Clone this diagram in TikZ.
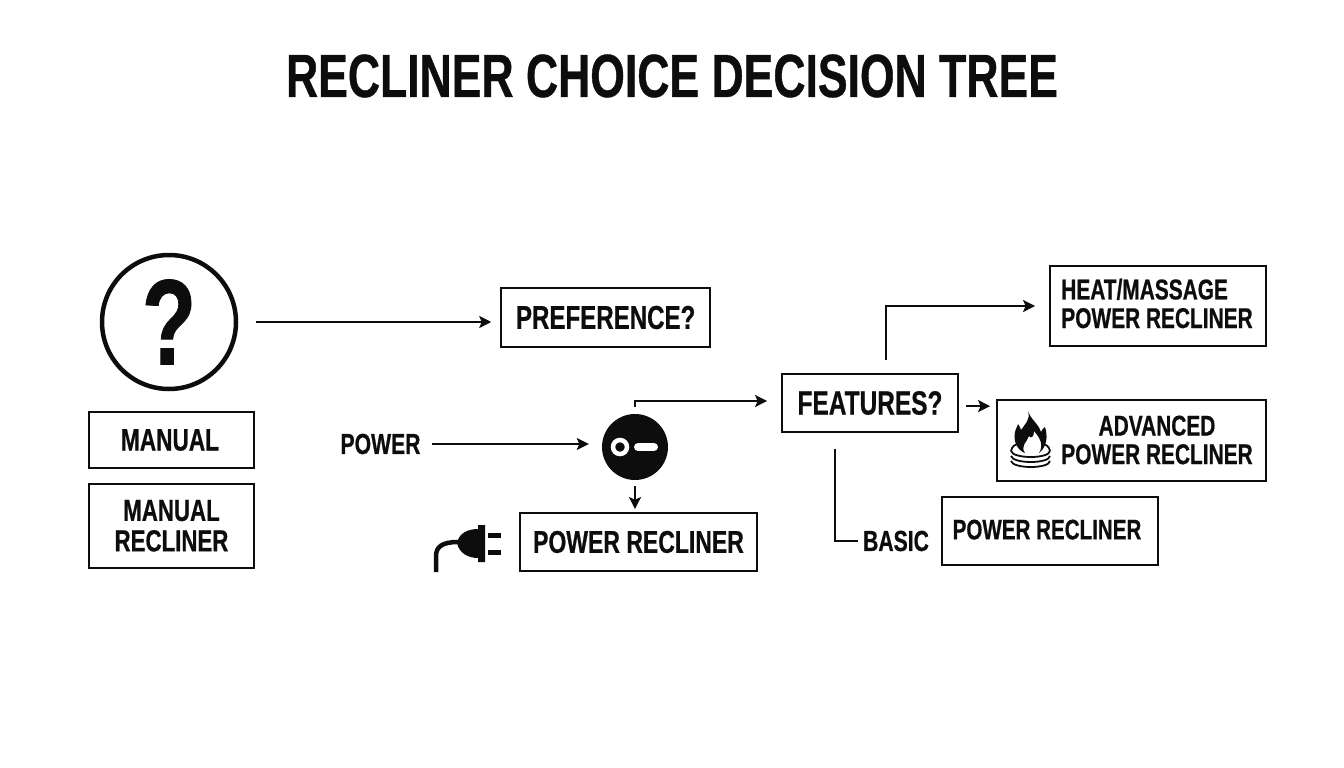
\documentclass[tikz,border=0pt]{standalone}
\usepackage{fontspec}
\usepackage{tikz}
\usetikzlibrary{positioning,arrows.meta}
\setmainfont[FakeStretch=0.73,BoldFeatures={FakeStretch=0.73,FakeBold=0.6}]{Liberation Sans}
\definecolor{inkblack}{HTML}{0D0D0D}

\newcommand{\fsize}[1]{\fontsize{#1}{#1}\selectfont\bfseries}

\tikzset{
    box/.style={draw=inkblack, line width=1.8pt, inner sep=0pt, align=center, text=inkblack, font=\fsize{31.5}},
    smallbox/.style={box, font=\fsize{28.6}},
    tag/.style={inner sep=0pt, text=inkblack, font=\fsize{29}},
    flow/.style={draw=inkblack, line width=2pt, -{Stealth[length=12pt,width=12pt,inset=2.5pt]}},
}

\begin{document}
\begin{tikzpicture}[x=1pt, y=-1pt]
    \useasboundingbox (0,0) rectangle (1344,768);

    \node[tag, font=\fsize{61}] (title) at (672,76) {RECLINER CHOICE DECISION TREE}; % title

    % left column
    \node[circle, draw=inkblack, line width=4.5pt, minimum size=134pt, inner sep=0pt, text=inkblack, font=\fsize{122}] (ask) at (169,322) {?};
    \node[smallbox, font=\fsize{31}, minimum width=165pt, minimum height=56pt] (manual) at (171.5,440) {MANUAL\hspace{3pt}};
    \node[smallbox, font=\fsize{30.5}, minimum width=165pt, minimum height=84pt, below=14pt of manual] (manualrec) {MANUAL\\RECLINER};

    % middle
    \node[box, font=\fsize{33}, minimum width=209pt, minimum height=59pt, right=262pt of ask, yshift=4.5pt] (pref) {PREFERENCE?};
    \node[tag] (power) at (380.5,444) {POWER};
    \node[circle, fill=inkblack, minimum size=66pt, inner sep=0pt] (disc) at (635,447) {};
    \node[box, minimum width=237pt, minimum height=58pt] (powerrec) at (638.5,542) {POWER RECLINER};
    \coordinate (plug) at (488,543); % where the prongs begin

    % right
    \node[box, font=\fsize{33.5}, minimum width=176pt, minimum height=58pt] (features) at (870,403) {FEATURES?};
    \node[smallbox, minimum width=216pt, minimum height=80pt] (heat) at (1158,306) {};
    \node[tag, font=\fsize{28.6}, align=left] (heattext) at (1157,303.5) {HEAT/MASSAGE\\POWER RECLINER};
    \node[smallbox, minimum width=269pt, minimum height=81pt] (advanced) at (1131.5,440.5) {};
    \node[tag, font=\fsize{28.6}, align=center] (advtext) at (1157,440) {ADVANCED\\POWER RECLINER};
    \node[tag] (basic) at (896,541) {BASIC};
    \node[smallbox, font=\fsize{28.2}, minimum width=216pt, minimum height=68pt] (basicrec) at (1050,531) {\raisebox{3pt}{POWER RECLINER}\hspace{6pt}};
    \coordinate (advin) at ([yshift=-7pt]advanced.north west); % arrow meets box near top

    % key inside the disc
    \draw[white, line width=4.5pt] (620,447) circle (7);
    \draw[white, line width=8pt, line cap=round] (638,447) -- (654,447);

    % plug
    \fill[inkblack] (457,543) .. controls (459,533) and (468,529) .. (478,529) -- (478,525) -- (485,525) -- (485,562) -- (478,562) -- (478,558) .. controls (468,558) and (459,553) .. (457,543) -- cycle;
    \draw[inkblack, line width=5pt] (plug |- 0,535) -- ++(13,0);
    \draw[inkblack, line width=5pt] (plug |- 0,552) -- ++(13,0);
    \draw[inkblack, line width=4.5pt] (436,572) -- (436,556) .. controls (436,547) and (442,542) .. (458,542);

    % flame on rings
    \fill[inkblack, even odd rule] (1028,411) .. controls (1031,420) and (1038,423) .. (1041,432) .. controls (1043,428) and (1044,428) .. (1045,427) .. controls (1048,436) and (1047,447) .. (1039,453) .. controls (1044,445) and (1040,438) .. (1034,431) .. controls (1034,437) and (1031,439) .. (1029,436) .. controls (1027,442) and (1020,446) .. (1025,453) .. controls (1017,450) and (1013,441) .. (1015,432) .. controls (1016,428) and (1018,425) .. (1018,424) .. controls (1020,426) and (1020,428) .. (1021,430) .. controls (1024,425) and (1031,420) .. (1028,411) -- cycle;
    \foreach \ringy in {451,456,461} {
        \draw[inkblack, line width=1.8pt] (1011,\ringy) .. controls (1013,\ringy+8) and (1049,\ringy+8) .. (1050,\ringy);
    }
    \draw[inkblack, line width=1.8pt] (1011,451) .. controls (1012,446) and (1015,445) .. (1017,444);
    \draw[inkblack, line width=1.8pt] (1050,451) .. controls (1049,446) and (1046,445) .. (1044,444);

    % connectors
    \draw[flow, shorten <=18pt, shorten >=9pt] (ask) -- (ask -| pref.west);
    \draw[flow, shorten <=11pt, shorten >=13pt] (power) -- (power -| disc.west);
    \draw[flow, shorten <=7pt, shorten >=14pt] (disc) |- ([yshift=2pt]features.west);
    \draw[flow, shorten <=6pt, shorten >=3pt] (disc) -- (disc |- powerrec.north);
    \draw[flow, shorten <=13pt, shorten >=14pt] ([xshift=16pt]features.north) |- (heat.west);
    \draw[flow, shorten <=7pt, shorten >=6pt] (features.east |- advin) -- (advin);
    \draw[draw=inkblack, line width=2pt, shorten <=16pt, shorten >=5pt] ([xshift=-35pt]features.south) |- (basic.west);
\end{tikzpicture}
\end{document}
